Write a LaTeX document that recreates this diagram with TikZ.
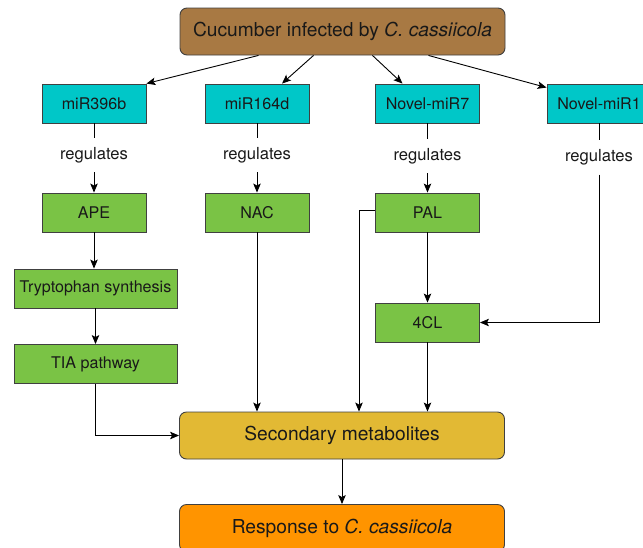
\documentclass[tikz,border=0pt]{standalone}
\usepackage{fontspec}
\setmainfont{TeX Gyre Heros}
\usetikzlibrary{arrows.meta}
\definecolor{cucbrown}{RGB}{168,121,67}
\definecolor{mircyan}{RGB}{0,199,200}
\definecolor{genegreen}{RGB}{122,195,69}
\definecolor{metyellow}{RGB}{226,185,52}
\definecolor{resporange}{RGB}{255,148,0}
\begin{document}
\begin{tikzpicture}[x=1pt,y=-1pt]
            \tikzstyle{big node}=[draw=black!75,line width=0.9pt,rounded corners=7pt,minimum width=325pt,minimum height=47pt,inner sep=0pt,text=black!90,font=\fontsize{19.2}{22}\selectfont]
            \tikzstyle{mir node}=[draw=black!75,line width=0.9pt,fill=mircyan,minimum width=104pt,minimum height=39pt,inner sep=0pt,text=black!90,font=\fontsize{16.1}{18}\selectfont]
            \tikzstyle{gene node}=[mir node,fill=genegreen]
            \tikzstyle{wide node}=[gene node,minimum width=163pt]
            \tikzstyle{reg label}=[inner sep=0pt,minimum height=34pt,text=black!90,font=\fontsize{16.6}{18}\selectfont]
            \tikzstyle{link}=[line width=0.9pt,-{Stealth[length=9pt,width=7.5pt,inset=2pt]}]
            \tikzstyle{plain link}=[line width=0.9pt]

            \clip (0,0) rectangle (643,547);

            \node(top)[big node,fill=cucbrown] at (342.5,31.5) {Cucumber infected by \textit{C. cassiicola}};

            \node(mir1)[mir node] at (94,103.5) {miR396b};
            \node(mir2)[mir node] at (257,103.5) {miR164d};
            \node(mir3)[mir node] at (427.5,103.5) {Novel-miR7};
            \node(mir4)[mir node] at (599,103.5) {Novel-miR1};

            \node(reg1)[reg label] at (94,155) {regulates};
            \node(reg2)[reg label] at (257,155) {regulates};
            \node(reg3)[reg label] at (427.5,156) {regulates};
            \node(reg4)[reg label] at (599,157.5) {regulates};

            \node(ape)[gene node] at (94,212.5) {APE};
            \node(nac)[gene node] at (257,212.5) {NAC};
            \node(pal)[gene node] at (427.5,212.5) {PAL};
            \node(tryp)[wide node] at (95.5,288.5) {Tryptophan synthesis};
            \node(tia)[wide node] at (95.5,364) {TIA pathway};
            \node(cl4)[gene node] at (427.5,322.5) {4CL};

            \node(sm)[big node,fill=metyellow] at (342,435.5) {Secondary metabolites};
            \node(resp)[big node,fill=resporange] at (342,528) {Response to \textit{C. cassiicola}};

            \coordinate(palbend) at (359,210);

            \draw[link] ([xshift=-84pt]top.south) -- (mir1.north east);
            \draw[link] ([xshift=-29pt]top.south) -- ([xshift=25pt]mir2.north);
            \draw[link] ([xshift=30pt]top.south) -- ([xshift=-25pt]mir3.north);
            \draw[link] ([xshift=86pt]top.south) -- ([yshift=-4pt]mir4.north west);

            \draw[plain link] (mir1) -- (reg1);
            \draw[plain link] (mir2) -- (reg2);
            \draw[plain link] (mir3) -- (reg3);
            \draw[plain link] (mir4) -- (reg4);
            \draw[link] (reg1) -- (ape);
            \draw[link] (reg2) -- (nac);
            \draw[link] (reg3) -- (pal);
            \draw[link] (reg4) |- (cl4);

            \draw[link] (ape.south) -- (ape.south |- tryp.north);
            \draw[link] (tryp) -- (tia);
            \draw[link] (pal) -- (cl4);

            \draw[link] (tia) |- (sm);
            \draw[link] (nac) -- (nac |- sm.north);
            \draw[link] (pal.west |- palbend) -- (palbend) -- (palbend |- sm.north);
            \draw[link] (cl4) -- (cl4 |- sm.north);
            \draw[link] (sm) -- (resp);
        \end{tikzpicture}
\end{document}
